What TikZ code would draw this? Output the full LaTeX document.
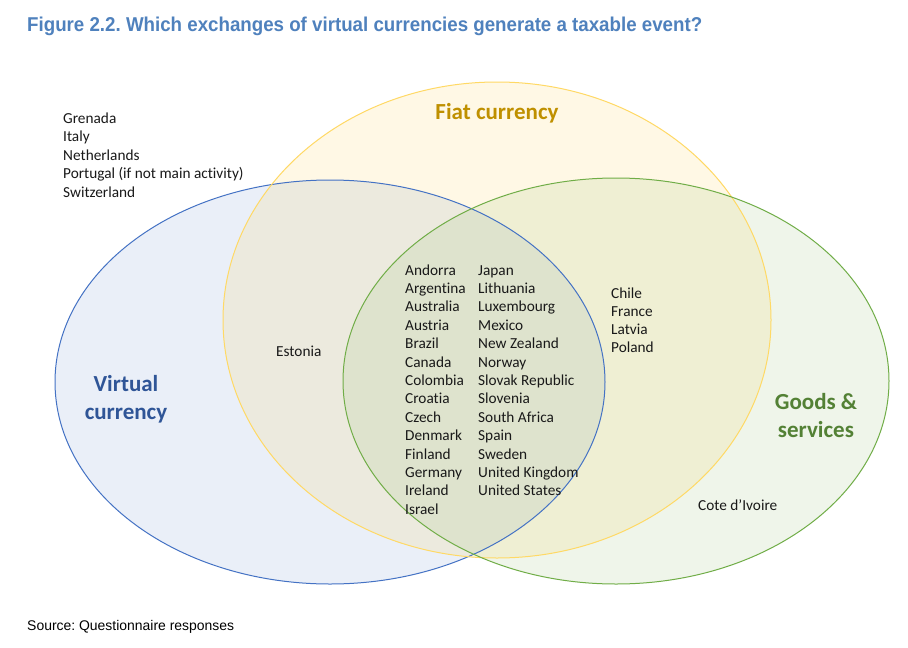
\documentclass[tikz,border=0pt]{standalone}
\usepackage{fontspec}
\usepackage{graphicx}
\setmainfont{Carlito}[Ligatures={NoCommon}]
\newfontfamily\arialfont{Liberation Sans}
\frenchspacing
\definecolor{vcblue}{HTML}{4472C4}
\definecolor{fiatfill}{HTML}{FFC000}
\definecolor{fiatline}{HTML}{FFD965}
\definecolor{gsgreen}{HTML}{70AD47}
\definecolor{vclabel}{HTML}{2F5597}
\definecolor{fiatlabel}{HTML}{BF9000}
\definecolor{gslabel}{HTML}{538135}
\definecolor{titleblue}{HTML}{4F81BD}
\tikzset{
  country/.style={inner sep=0pt, anchor=base west, font=\fontsize{15.3}{18}\selectfont, text=black!90},
  setlabel/.style={inner sep=0pt, anchor=base, font=\fontsize{23}{26}\selectfont\bfseries},
  setfill/.style={fill opacity=0.11},
  setline/.style={line width=1pt}
}
\begin{document}
\begin{tikzpicture}[x=1pt,y=-1pt]
\fill[white] (0,0) rectangle (908,648);
\useasboundingbox (0,0) rectangle (908,648);
% fills
\fill[vcblue, setfill] (330,382) ellipse [x radius=275pt, y radius=202pt];
\fill[fiatfill, fill opacity=0.10] (497,320) ellipse [x radius=274pt, y radius=238pt];
\fill[gsgreen, setfill] (616,381) ellipse [x radius=273pt, y radius=203pt];
% outlines
\draw[vcblue, setline] (330,382) ellipse [x radius=275pt, y radius=202pt];
\draw[fiatline, setline] (497,320) ellipse [x radius=274pt, y radius=238pt];
\draw[gsgreen, setline] (616,381) ellipse [x radius=273pt, y radius=203pt];
% title
\node[inner sep=0pt, anchor=base west, text=titleblue, font=\arialfont\bfseries\fontsize{20}{22}\selectfont] (title) at (27,31)
  {\resizebox{675pt}{\height}{Figure 2.2. Which exchanges of virtual currencies generate a taxable event?}};
% source
\node[inner sep=0pt, anchor=base west, font=\arialfont\fontsize{14}{16}\selectfont] (source) at (27,630)
  {\resizebox{207pt}{\height}{Source: Questionnaire responses}};
% set labels
\node[setlabel, text=fiatlabel] (fiat) at (497,119) {Fiat currency};
\node[setlabel, text=vclabel] (vc1) at (126,391) {Virtual};
\node[setlabel, text=vclabel] (vc2) at (126,419) {currency};
\node[setlabel, text=gslabel] (gs1) at (816,409) {Goods \&};
\node[setlabel, text=gslabel] (gs2) at (816,437) {services};
% virtual only
\foreach [count=\i] \c in {Grenada,Italy,Netherlands,Portugal (if not main activity),Switzerland}
  \node[country] (vo\i) at (63,{123+18.5*(\i-1)}) {\c};
% virtual + fiat
\node[country] (est) at (276,356) {Estonia};
% fiat + goods
\foreach [count=\i] \c in {Chile,France,Latvia,Poland}
  \node[country] (fg\i) at (611,{298+18.2*(\i-1)}) {\c};
% goods only
\node[country] (civ) at (698,510) {Cote d’Ivoire};
% all three
\foreach [count=\i] \c in {Andorra,Argentina,Australia,Austria,Brazil,Canada,Colombia,Croatia,Czech,Denmark,Finland,Germany,Ireland,Israel}
  \node[country] (a\i) at (405,{275+18.4*(\i-1)}) {\c};
\foreach [count=\i] \c in {Japan,Lithuania,Luxembourg,Mexico,New Zealand,Norway,Slovak Republic,Slovenia,South Africa,Spain,Sweden,United Kingdom,United States}
  \node[country] (b\i) at (478,{275+18.4*(\i-1)}) {\c};
\end{tikzpicture}
\end{document}
